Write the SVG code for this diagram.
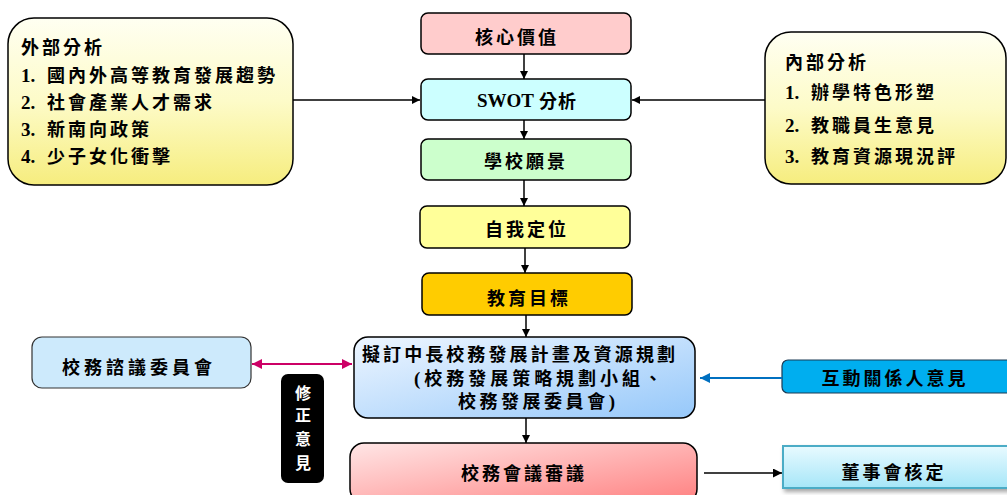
<svg xmlns="http://www.w3.org/2000/svg" width="1007" height="495" viewBox="0 0 1007 495">
<defs>
  <linearGradient id="gYel" x1="0" y1="0" x2="0" y2="1">
    <stop offset="0" stop-color="#fffff2"/>
    <stop offset="0.5" stop-color="#fdfbc8"/>
    <stop offset="1" stop-color="#f6ed7e"/>
  </linearGradient>
  <linearGradient id="gBlue" x1="0" y1="0" x2="1" y2="1">
    <stop offset="0" stop-color="#eef6ff"/>
    <stop offset="1" stop-color="#96c8fa"/>
  </linearGradient>
  <linearGradient id="gRed" x1="0" y1="0" x2="1" y2="1">
    <stop offset="0" stop-color="#ffe6e6"/>
    <stop offset="1" stop-color="#ff8080"/>
  </linearGradient>
  <linearGradient id="gCyan" x1="0" y1="0" x2="0" y2="1">
    <stop offset="0" stop-color="#e8faff"/>
    <stop offset="1" stop-color="#a6e6f8"/>
  </linearGradient>
  <marker id="arrK" viewBox="0 0 10 10" refX="10" refY="5" markerWidth="10" markerHeight="8" markerUnits="userSpaceOnUse" orient="auto">
    <path d="M0,0 L10,5 L0,10 z" fill="#000"/>
  </marker>
  <marker id="arrKw" viewBox="0 0 10 10" refX="10" refY="5" markerWidth="14" markerHeight="9" markerUnits="userSpaceOnUse" orient="auto">
    <path d="M0,0 L10,5 L0,10 z" fill="#000"/>
  </marker>
  <marker id="arrP" viewBox="0 0 10 10" refX="10" refY="5" markerWidth="12" markerHeight="10" markerUnits="userSpaceOnUse" orient="auto-start-reverse">
    <path d="M0,0 L10,5 L0,10 z" fill="#cc0066"/>
  </marker>
  <marker id="arrB" viewBox="0 0 10 10" refX="10" refY="5" markerWidth="12" markerHeight="10" markerUnits="userSpaceOnUse" orient="auto">
    <path d="M0,0 L10,5 L0,10 z" fill="#0070c0"/>
  </marker>
  <filter id="shadow" x="-10%" y="-10%" width="130%" height="140%">
    <feDropShadow dx="2" dy="3" stdDeviation="2" flood-color="#000" flood-opacity="0.35"/>
  </filter>
</defs>
<style>
  .box { stroke: #000; stroke-width: 1.5; }
  .t { font-family: "Noto Sans CJK TC", "Noto Sans CJK SC", sans-serif; font-weight: bold; font-size: 18px; letter-spacing: 3px; fill: #000; }
  .c { text-anchor: middle; dominant-baseline: central; }
  .n { font-family: "Liberation Serif", serif; font-weight: bold; font-size: 19px; letter-spacing: 0; }
  .w { fill: #fff; font-size: 16px; letter-spacing: 0; }
  .ln { stroke: #000; stroke-width: 1.5; fill: none; }
</style>

<g id="external">
  <rect class="box" x="8" y="18" width="285" height="167" rx="26" fill="url(#gYel)"/>
  <text class="t" x="21" y="54">外部分析</text>
  <text class="t" y="82"><tspan class="n" x="21">1.</tspan><tspan x="47">國內外高等教育發展趨勢</tspan></text>
  <text class="t" y="109"><tspan class="n" x="21">2.</tspan><tspan x="47">社會產業人才需求</tspan></text>
  <text class="t" y="136"><tspan class="n" x="21">3.</tspan><tspan x="47">新南向政策</tspan></text>
  <text class="t" y="163"><tspan class="n" x="21">4.</tspan><tspan x="47">少子女化衝擊</tspan></text>
</g>

<g id="internal">
  <rect class="box" x="765" y="32" width="241" height="152" rx="26" fill="url(#gYel)"/>
  <text class="t" x="785" y="69">內部分析</text>
  <text class="t" y="99"><tspan class="n" x="785">1.</tspan><tspan x="811">辦學特色形塑</tspan></text>
  <text class="t" y="132"><tspan class="n" x="785">2.</tspan><tspan x="811">教職員生意見</tspan></text>
  <text class="t" y="163"><tspan class="n" x="785">3.</tspan><tspan x="811">教育資源現況評</tspan></text>
</g>

<g id="core">
  <rect class="box" x="421" y="13" width="210" height="41" rx="7" fill="#ffcccc"/>
  <text class="t c" x="517" y="36">核心價值</text>
</g>
<g id="swot">
  <rect class="box" x="421" y="79" width="210" height="41" rx="7" fill="#ccffff"/>
  <text class="t c" x="527" y="100" style="letter-spacing:1px"><tspan class="n" font-size="20">SWOT</tspan> 分析</text>
</g>
<g id="vision">
  <rect class="box" x="421" y="139" width="210" height="41" rx="7" fill="#ccffcc"/>
  <text class="t c" x="526" y="160">學校願景</text>
</g>
<g id="position">
  <rect class="box" x="420" y="206" width="210" height="42" rx="7" fill="#ffff99"/>
  <text class="t c" x="527" y="228">自我定位</text>
</g>
<g id="goal">
  <rect class="box" x="422" y="273" width="210" height="42" rx="7" fill="#ffcc00"/>
  <text class="t c" x="529" y="297">教育目標</text>
</g>
<g id="plan">
  <rect class="box" x="354" y="337" width="341" height="81" rx="14" fill="url(#gBlue)"/>
  <text class="t" x="362" y="361" textLength="313" lengthAdjust="spacing" style="letter-spacing:0">擬訂中長校務發展計畫及資源規劃</text>
  <text class="t" x="414" y="385" textLength="248" lengthAdjust="spacing" style="letter-spacing:0"><tspan class="n">(</tspan>校務發展策略規劃小組、</text>
  <text class="t" x="458" y="408" textLength="157" lengthAdjust="spacing" style="letter-spacing:0">校務發展委員會<tspan class="n">)</tspan></text>
</g>
<g id="meeting">
  <rect class="box" x="350" y="443" width="347" height="60" rx="14" fill="url(#gRed)"/>
  <text class="t c" x="524" y="472">校務會議審議</text>
</g>
<g id="advisory">
  <rect x="32" y="337" width="219" height="51" rx="10" fill="#cdeafc" stroke="#333" stroke-width="1.2"/>
  <text class="t c" x="139" y="366" style="letter-spacing:4px">校務諮議委員會</text>
</g>
<g id="revision">
  <rect x="281" y="374" width="43" height="109" rx="7" fill="#000"/>
  <text class="t w c" x="303" y="392">修</text>
  <text class="t w c" x="303" y="414">正</text>
  <text class="t w c" x="303" y="438">意</text>
  <text class="t w c" x="303" y="462">見</text>
</g>
<g id="stakeholders">
  <rect x="782" y="360" width="232" height="33" rx="6" fill="#00aeef" stroke="#1a3a55" stroke-width="1.2"/>
  <text class="t c" x="895" y="377">互動關係人意見</text>
</g>
<g id="board">
  <rect x="783" y="446" width="232" height="42" fill="url(#gCyan)" stroke="#4bacc6" stroke-width="2" filter="url(#shadow)"/>
  <text class="t c" x="894" y="471">董事會核定</text>
</g>

<g id="connectors">
  <line class="ln" x1="524" y1="54" x2="524" y2="79" marker-end="url(#arrK)"/>
  <line class="ln" x1="524" y1="120" x2="524" y2="139" marker-end="url(#arrK)"/>
  <line class="ln" x1="524" y1="180" x2="524" y2="206" marker-end="url(#arrK)"/>
  <line class="ln" x1="525" y1="248" x2="525" y2="273" marker-end="url(#arrK)"/>
  <line class="ln" x1="526" y1="315" x2="526" y2="337" marker-end="url(#arrK)"/>
  <line class="ln" x1="526" y1="418" x2="526" y2="443" marker-end="url(#arrK)"/>
  <line class="ln" x1="293" y1="100" x2="420" y2="100" marker-end="url(#arrK)"/>
  <line class="ln" x1="765" y1="100" x2="632" y2="100" marker-end="url(#arrK)"/>
  <line x1="252" y1="364" x2="352" y2="364" stroke="#cc0066" stroke-width="2" marker-start="url(#arrP)" marker-end="url(#arrP)"/>
  <line x1="782" y1="378" x2="700" y2="378" stroke="#0070c0" stroke-width="2" marker-end="url(#arrB)"/>
  <line class="ln" x1="704" y1="473" x2="782" y2="473" marker-end="url(#arrKw)"/>
</g>
</svg>
